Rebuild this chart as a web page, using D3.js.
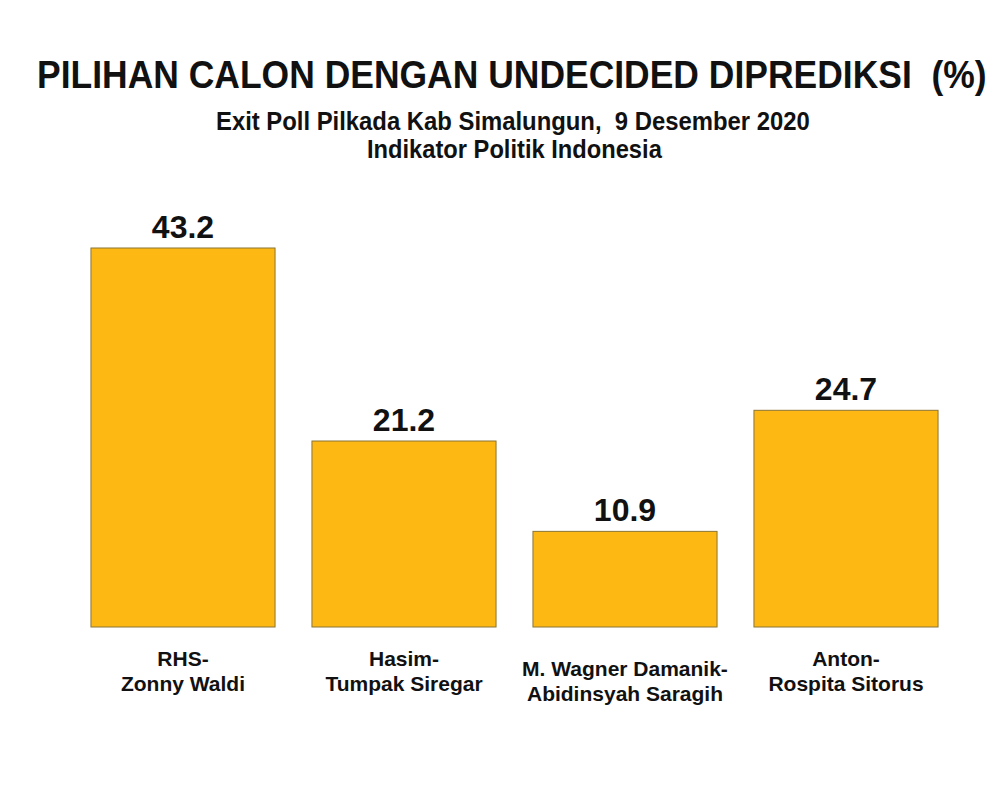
<!DOCTYPE html>
<html>
<head>
<meta charset="utf-8">
<script src="https://cdn.jsdelivr.net/npm/d3@7"></script>
<style>
  body { margin: 0; background: #fff; }
  text { font-family: "Liberation Sans", Arial, sans-serif; font-weight: bold; fill: #111; white-space: pre; }
</style>
</head>
<body>
<div id="chart"></div>
<script>
const categories = [
  ["RHS-", "Zonny Waldi"],
  ["Hasim-", "Tumpak Siregar"],
  ["M. Wagner Damanik-", "Abidinsyah Saragih"],
  ["Anton-", "Rospita Sitorus"]
];
const values = [43.2, 21.2, 10.9, 24.7];
const title = "PILIHAN CALON DENGAN UNDECIDED DIPREDIKSI  (%)";
const subtitles = ["Exit Poll Pilkada Kab Simalungun,  9 Desember 2020", "Indikator Politik Indonesia"];

const width = 1000;
const height = 800;

const svg = d3.select("#chart")
  .append("svg")
  .attr("width", width)
  .attr("height", height);

const keys = categories.map((d) => d.join(" "));

const x = d3.scaleBand()
  .domain(keys)
  .range([72.5, 956.5])
  .paddingInner(0.167)
  .paddingOuter(0.0835);

const y = d3.scaleLinear()
  .domain([0, 43.2])
  .range([627, 248]);

// condensed heading text: squeeze to the width seen in the original
function squeezed(str, x0, y0, size, w) {
  const t = svg.append("text")
    .attr("font-size", size)
    .text(str);
  const natural = t.node().getComputedTextLength();
  t.attr("transform", `translate(${x0},${y0}) scale(${w / natural},1)`);
  return t;
}

squeezed(title, 37, 88, 39, 950);
squeezed(subtitles[0], 216, 130, 25, 594);
squeezed(subtitles[1], 367, 158, 25, 295);

// bars
svg.selectAll("rect.bar")
  .data(values)
  .join("rect")
  .attr("class", "bar")
  .attr("x", (d, i) => x(keys[i]))
  .attr("y", (d) => y(d))
  .attr("width", x.bandwidth())
  .attr("height", (d) => y(0) - y(d))
  .attr("fill", "#FDB813")
  .attr("stroke", "#8a7534")
  .attr("stroke-width", 1);

// value labels
svg.selectAll("text.val")
  .data(values)
  .join("text")
  .attr("class", "val")
  .attr("x", (d, i) => x(keys[i]) + x.bandwidth() / 2)
  .attr("y", (d) => y(d) - 10)
  .attr("text-anchor", "middle")
  .attr("font-size", 32)
  .text((d) => d.toFixed(1));

// category labels (the long third one sits a bit lower in the original)
const labelDrop = [0, 0, 10, 0];

const lab = svg.selectAll("text.cat")
  .data(categories)
  .join("text")
  .attr("class", "cat")
  .attr("text-anchor", "middle")
  .attr("font-size", 21);

lab.selectAll("tspan")
  .data((d, i) => d.map((s) => ({ s, i })))
  .join("tspan")
  .attr("x", (d) => x(keys[d.i]) + x.bandwidth() / 2)
  .attr("y", (d, j) => 666 + labelDrop[d.i] + j * 25)
  .text((d) => d.s);
</script>
</body>
</html>
